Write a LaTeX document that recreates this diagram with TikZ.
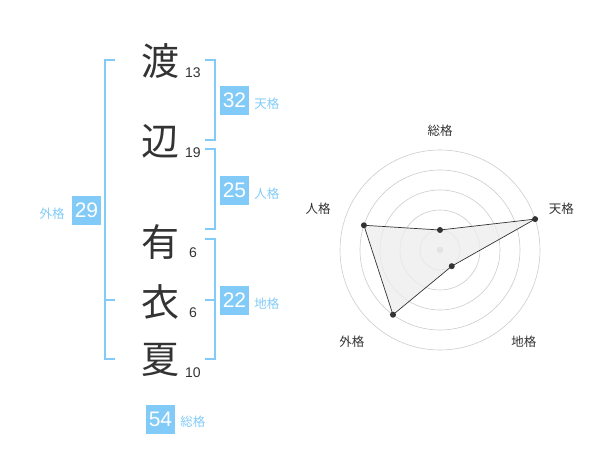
\documentclass[tikz,border=0pt]{standalone}
\usepackage{fontspec}
\setmainfont{Liberation Sans}
\newfontfamily\jp{Noto Sans CJK JP}
\usepackage{xcolor}
\usetikzlibrary{positioning}
\definecolor{kakucolorc}{HTML}{82CBF8}
\definecolor{inkcolorc}{HTML}{333333}
\colorlet{kakucolor}{kakucolorc}
\colorlet{inkcolor}{inkcolorc}
\colorlet{webcolor}{black!20}
\colorlet{areacolor}{black!7}
\tikzstyle{kanji} =[
    text=inkcolor,
    font=\jp\fontsize{38}{38}\selectfont,
    inner sep=0pt
    ]
\tikzstyle{kakusu} =[
    text=inkcolor,
    font=\fontsize{14}{14}\selectfont,
    inner sep=0pt
    ]
\tikzstyle{badge} =[
    fill=kakucolor,
    text=white,
    font=\fontsize{21}{21}\selectfont,
    minimum size=29pt,
    inner sep=0pt
    ]
\tikzstyle{kakuname} =[
    text=kakucolor,
    font=\jp\fontsize{12.5}{12.5}\selectfont,
    inner sep=0pt
    ]
\tikzstyle{bracket} =[
    draw=kakucolor,
    line width=2pt
    ]
\tikzstyle{axisname} =[
    text=inkcolor,
    font=\jp\fontsize{12.5}{12.5}\selectfont,
    inner sep=0pt
    ]
\tikzstyle{vertex} =[
    circle,
    fill=inkcolor,
    inner sep=0pt,
    minimum size=6pt
    ]

\begin{document}
\begin{tikzpicture}[x=1pt,y=-1pt]
\useasboundingbox (0,0) rectangle (600,470);

% name
\node[kanji] (wata) at (160,61) {渡};
\node[kanji] (nabe) at (160,141) {辺};
\node[kanji] (a) at (160,242) {有};
\node[kanji] (i) at (160,302) {衣};
\node[kanji] (ka) at (160,360) {夏};
\node[kakusu] (n-wata) at (193,72.7) {13};
\node[kakusu] (n-nabe) at (193,152.7) {19};
\node[kakusu] (n-a) at (193,253) {6};
\node[kakusu] (n-i) at (193,313) {6};
\node[kakusu] (n-ka) at (193,372.7) {10};

% brackets
\draw[bracket] (205,60) -- (215,60) -- (215,140) -- (205,140);
\draw[bracket] (205,149) -- (215,149) -- (215,229) -- (205,229);
\draw[bracket] (205,239) -- (215,239) -- (215,359) -- (205,359);
\draw[bracket] (205,300) -- (215,300);
\draw[bracket] (115,60) -- (105,60) -- (105,359) -- (115,359);
\draw[bracket] (105,300) -- (115,300);

% kaku values
\node[badge] (tenkaku) at (234.5,100.5) {32};
\node[kakuname, right=5pt of tenkaku, yshift=-3pt] {天格};
\node[badge] (jinkaku) at (234.5,190.5) {25};
\node[kakuname, right=5pt of jinkaku, yshift=-3pt] {人格};
\node[badge] (chikaku) at (234.5,300.5) {22};
\node[kakuname, right=5pt of chikaku, yshift=-3pt] {地格};
\node[badge] (gaikaku) at (86.5,210.5) {29};
\node[kakuname, left=7pt of gaikaku, yshift=-3pt] {外格};
\node[badge] (soukaku) at (160.5,419) {54};
\node[kakuname, right=5pt of soukaku, yshift=-3pt] {総格};

% radar
\begin{scope}[shift={(440,250)}, y=1pt]
    \foreach \r in {20,40,60,80,100}
        \draw[webcolor, line width=0.6pt] (0,0) circle (\r);
    \fill[black!25] (0,0) circle (3.3);
    \coordinate (p-sou) at (90:20);
    \coordinate (p-ten) at (18:100);
    \coordinate (p-chi) at (-54:20);
    \coordinate (p-gai) at (234:80);
    \coordinate (p-jin) at (162:80);
    \filldraw[fill=areacolor, fill opacity=0.8, draw=inkcolor, line width=0.7pt]
        (p-sou) -- (p-ten) -- (p-chi) -- (p-gai) -- (p-jin) -- cycle;
    \foreach \p in {sou,ten,chi,gai,jin}
        \node[vertex] at (p-\p) {};
    \node[axisname] (l-sou) at (90:119) {総格};
    \node[axisname] (l-ten) at (18.6:128) {天格};
    \node[axisname] (l-chi) at (-47.5:124) {地格};
    \node[axisname] (l-gai) at (226:127) {外格};
    \node[axisname] (l-jin) at (161.4:128.5) {人格};
\end{scope}
\end{tikzpicture}
\end{document}
